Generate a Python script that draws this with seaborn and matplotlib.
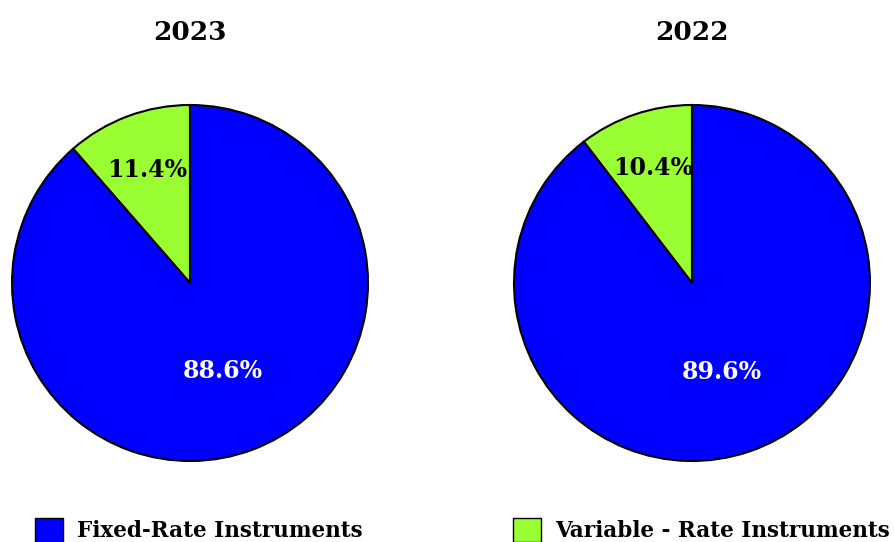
import matplotlib
matplotlib.use("Agg")
import matplotlib.pyplot as plt
import matplotlib.patches as mpatches
import seaborn as sns
import numpy as np

sns.set_theme(style="white")
plt.rcParams['font.family'] = ['DejaVu Serif']
plt.rcParams['text.color'] = 'black'

# data
years = ['2023', '2022']
categories = ['Variable - Rate Instruments', 'Fixed-Rate Instruments']
variable_pct = [11.4, 10.4]
fixed_pct = [88.6, 89.6]
colors = {'Fixed-Rate Instruments': '#0000FF', 'Variable - Rate Instruments': '#99FF33'}
label_colors = ['black', 'white']
label_dist = [0.68, 0.53]

fig = plt.figure(figsize=(8.94, 5.42), dpi=100)

positions = [[12/894, 81/542, 356/894, 356/542], [514/894, 81/542, 356/894, 356/542]]

for i, yr in enumerate(years):
    ax = fig.add_axes(positions[i])
    vals = [variable_pct[i], fixed_pct[i]]
    wedges, _ = ax.pie(vals, colors=[colors[c] for c in categories], startangle=90,
                       counterclock=True,
                       wedgeprops=dict(edgecolor='black', linewidth=1.5))
    for j, w in enumerate(wedges):
        ang = np.deg2rad((w.theta1 + w.theta2) / 2)
        ax.text(label_dist[j] * np.cos(ang), label_dist[j] * np.sin(ang),
                f'{vals[j]:.1f}%', ha='center', va='center', fontsize=17,
                fontweight='bold', color=label_colors[j])
    ax.set_xlim(-1.0, 1.0)
    ax.set_ylim(-1.0, 1.0)
    ax.set_aspect('equal')
    ax.axis('off')
    fig.text(positions[i][0] + positions[i][2] / 2, 1 - 32/542, yr, ha='center', va='center',
             fontsize=19, fontweight='bold', color='black')

leg_x = [16/894, 494/894]
for k, c in enumerate(['Fixed-Rate Instruments', 'Variable - Rate Instruments']):
    h = mpatches.Patch(facecolor=colors[c], edgecolor='black', linewidth=1)
    leg = fig.legend(handles=[h], labels=[c], loc='center left', bbox_to_anchor=(leg_x[k], 12/542),
                     frameon=False, prop=dict(size=15.5, weight='bold'),
                     handlelength=1.3, handleheight=1.4, handletextpad=0.65)
    for t in leg.get_texts():
        t.set_color('black')

fig.savefig('out.png', dpi=100)
